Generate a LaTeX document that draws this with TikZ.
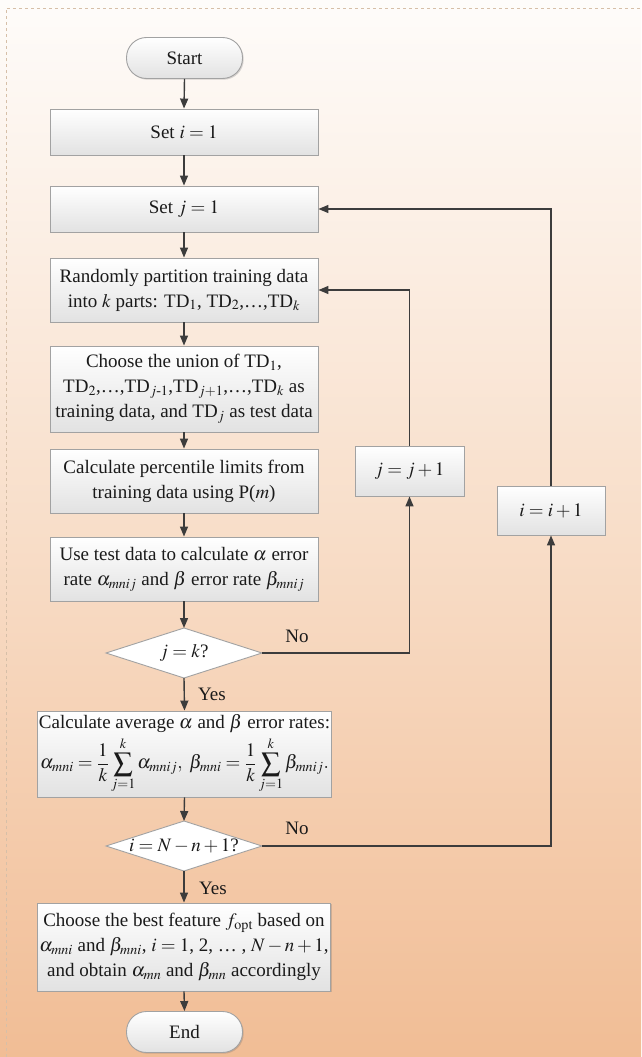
\documentclass[tikz,border=0pt]{standalone}
\usepackage{amsmath}
\usepackage{mathptmx}
\usepackage[no-math]{fontspec}
\setmainfont{Liberation Serif}
\usetikzlibrary{arrows.meta,shadows}
\definecolor{bgtop}{HTML}{FEFCFA}
\definecolor{bgmid}{HTML}{F8DEC9}
\definecolor{bgbot}{HTML}{F1BD95}
\definecolor{frame}{HTML}{D6BFA8}
\definecolor{boxline}{HTML}{A2A2A2}
\definecolor{boxbot}{HTML}{E2E2E2}
\definecolor{arrowc}{HTML}{3C3C3C}
\definecolor{txt}{HTML}{1A1A1A}
\tikzset{
  procbox/.style={draw=boxline, line width=0.9pt, top color=white, bottom color=boxbot,
    drop shadow={shadow xshift=1.2pt, shadow yshift=-1.2pt, opacity=0.25, fill=black!60},
    align=center, inner sep=2pt, text=txt},
  termbox/.style={procbox, rounded corners=20pt},
  diam/.style={draw=boxline, line width=0.9pt, fill=white},
  lbl/.style={text=txt, inner sep=0pt},
  flow/.style={draw=arrowc, line width=1.4pt, -{Triangle[length=10pt,width=8pt]}},
}
\begin{document}
\begin{tikzpicture}[x=1pt,y=-1pt,font=\fontsize{19}{25}\selectfont]
\useasboundingbox (0,0) rectangle (641,1057);
\shade[top color=bgtop, bottom color=bgbot, middle color=bgmid] (0,0) rectangle (641,1057);
\draw[frame, dashed, line width=0.8pt] (6,1057) -- (6,8) -- (641,8);

\node[termbox, minimum width=116pt, minimum height=41pt] (start) at (184.5,58) {Start};
\node[procbox, minimum width=268pt, minimum height=46pt] (seti) at (184,132) {Set $i = 1$};
\node[procbox, minimum width=268pt, minimum height=46pt] (setj) at (184,209) {Set $j = 1$};
\node[procbox, minimum width=268pt, minimum height=64pt] (part) at (184,290)
  {Randomly partition training data\\ into $k$ parts: TD$_1$, TD$_2$,\ldots,TD$_k$};
\node[procbox, minimum width=268pt, minimum height=86pt] (union) at (184,389)
  {Choose the union of TD$_1$,\\ TD$_2$,\ldots,TD$_{j\textrm{-}1}$,TD$_{j+1}$,\ldots,TD$_k$ as\\ training data, and TD$_j$ as test data};
\node[procbox, minimum width=268pt, minimum height=64pt] (perc) at (184,481)
  {Calculate percentile limits from\\ training data using P($m$)};
\node[procbox, minimum width=268pt, minimum height=64pt] (test) at (184,569)
  {Use test data to calculate $\alpha$ error\\ rate $\alpha_{mnij}$ and $\beta$ error rate $\beta_{mnij}$};

\coordinate (d1n) at (184,628);
\coordinate (d1e) at (262,653);
\coordinate (d1s) at (184,678);
\coordinate (d1w) at (106,653);
\filldraw[diam] (d1n) -- (d1e) -- (d1s) -- (d1w) -- cycle;
\node[lbl] (d1) at (184,653) {$j = k$?};

\node[procbox, minimum width=293pt, minimum height=86pt, inner sep=1pt] (avg) at (184.5,754)
  {Calculate average $\alpha$ and $\beta$ error rates:\\[3pt]
   $\displaystyle \alpha_{mni}=\frac{1}{k}\sum_{j=1}^{k}\alpha_{mnij},\ \beta_{mni}=\frac{1}{k}\sum_{j=1}^{k}\beta_{mnij}.$};

\coordinate (d2n) at (184,821);
\coordinate (d2e) at (262,846);
\coordinate (d2s) at (184,871);
\coordinate (d2w) at (106,846);
\filldraw[diam] (d2n) -- (d2e) -- (d2s) -- (d2w) -- cycle;
\node[lbl] (d2) at (184,846) {$i = N - n + 1$?};

\node[procbox, minimum width=288pt, minimum height=88pt] (best) at (184,947)
  {Choose the best feature $f_{\mathrm{opt}}$ based on\\ $\alpha_{mni}$ and $\beta_{mni}$, $i = 1$, 2, \ldots\ , $N - n + 1$,\\ and obtain $\alpha_{mn}$ and $\beta_{mn}$ accordingly};
\node[termbox, minimum width=116pt, minimum height=41pt] (end) at (184.5,1032) {End};

\node[procbox, minimum width=109pt, minimum height=50pt] (jinc) at (409.5,471) {$j = j + 1$};
\node[procbox, minimum width=108pt, minimum height=49pt] (iinc) at (551,510.5) {$i = i + 1$};

\node[lbl] (no1) at (297,636) {No};
\node[lbl] (yes1) at (212,694) {Yes};
\node[lbl] (no2) at (297,828) {No};
\node[lbl] (yes2) at (213,888) {Yes};

\draw[flow] (start.south) -- (seti.north);
\draw[flow] (seti.south) -- (setj.north);
\draw[flow] (setj.south) -- (part.north);
\draw[flow] (part.south) -- (union.north);
\draw[flow] (union.south) -- (perc.north);
\draw[flow] (perc.south) -- (test.north);
\draw[flow] (test.south) -- (d1n);
\draw[flow] (d1s) -- (avg.north);
\draw[flow] (avg.south) -- (d2n);
\draw[flow] (d2s) -- (best.north);
\draw[flow] (best.south) -- (end.north);
\draw[flow] (d1e) -| (jinc.south);
\draw[flow] (jinc.north) |- (part.east);
\draw[flow] (d2e) -| (iinc.south);
\draw[flow] (iinc.north) |- (setj.east);
\end{tikzpicture}
\end{document}
